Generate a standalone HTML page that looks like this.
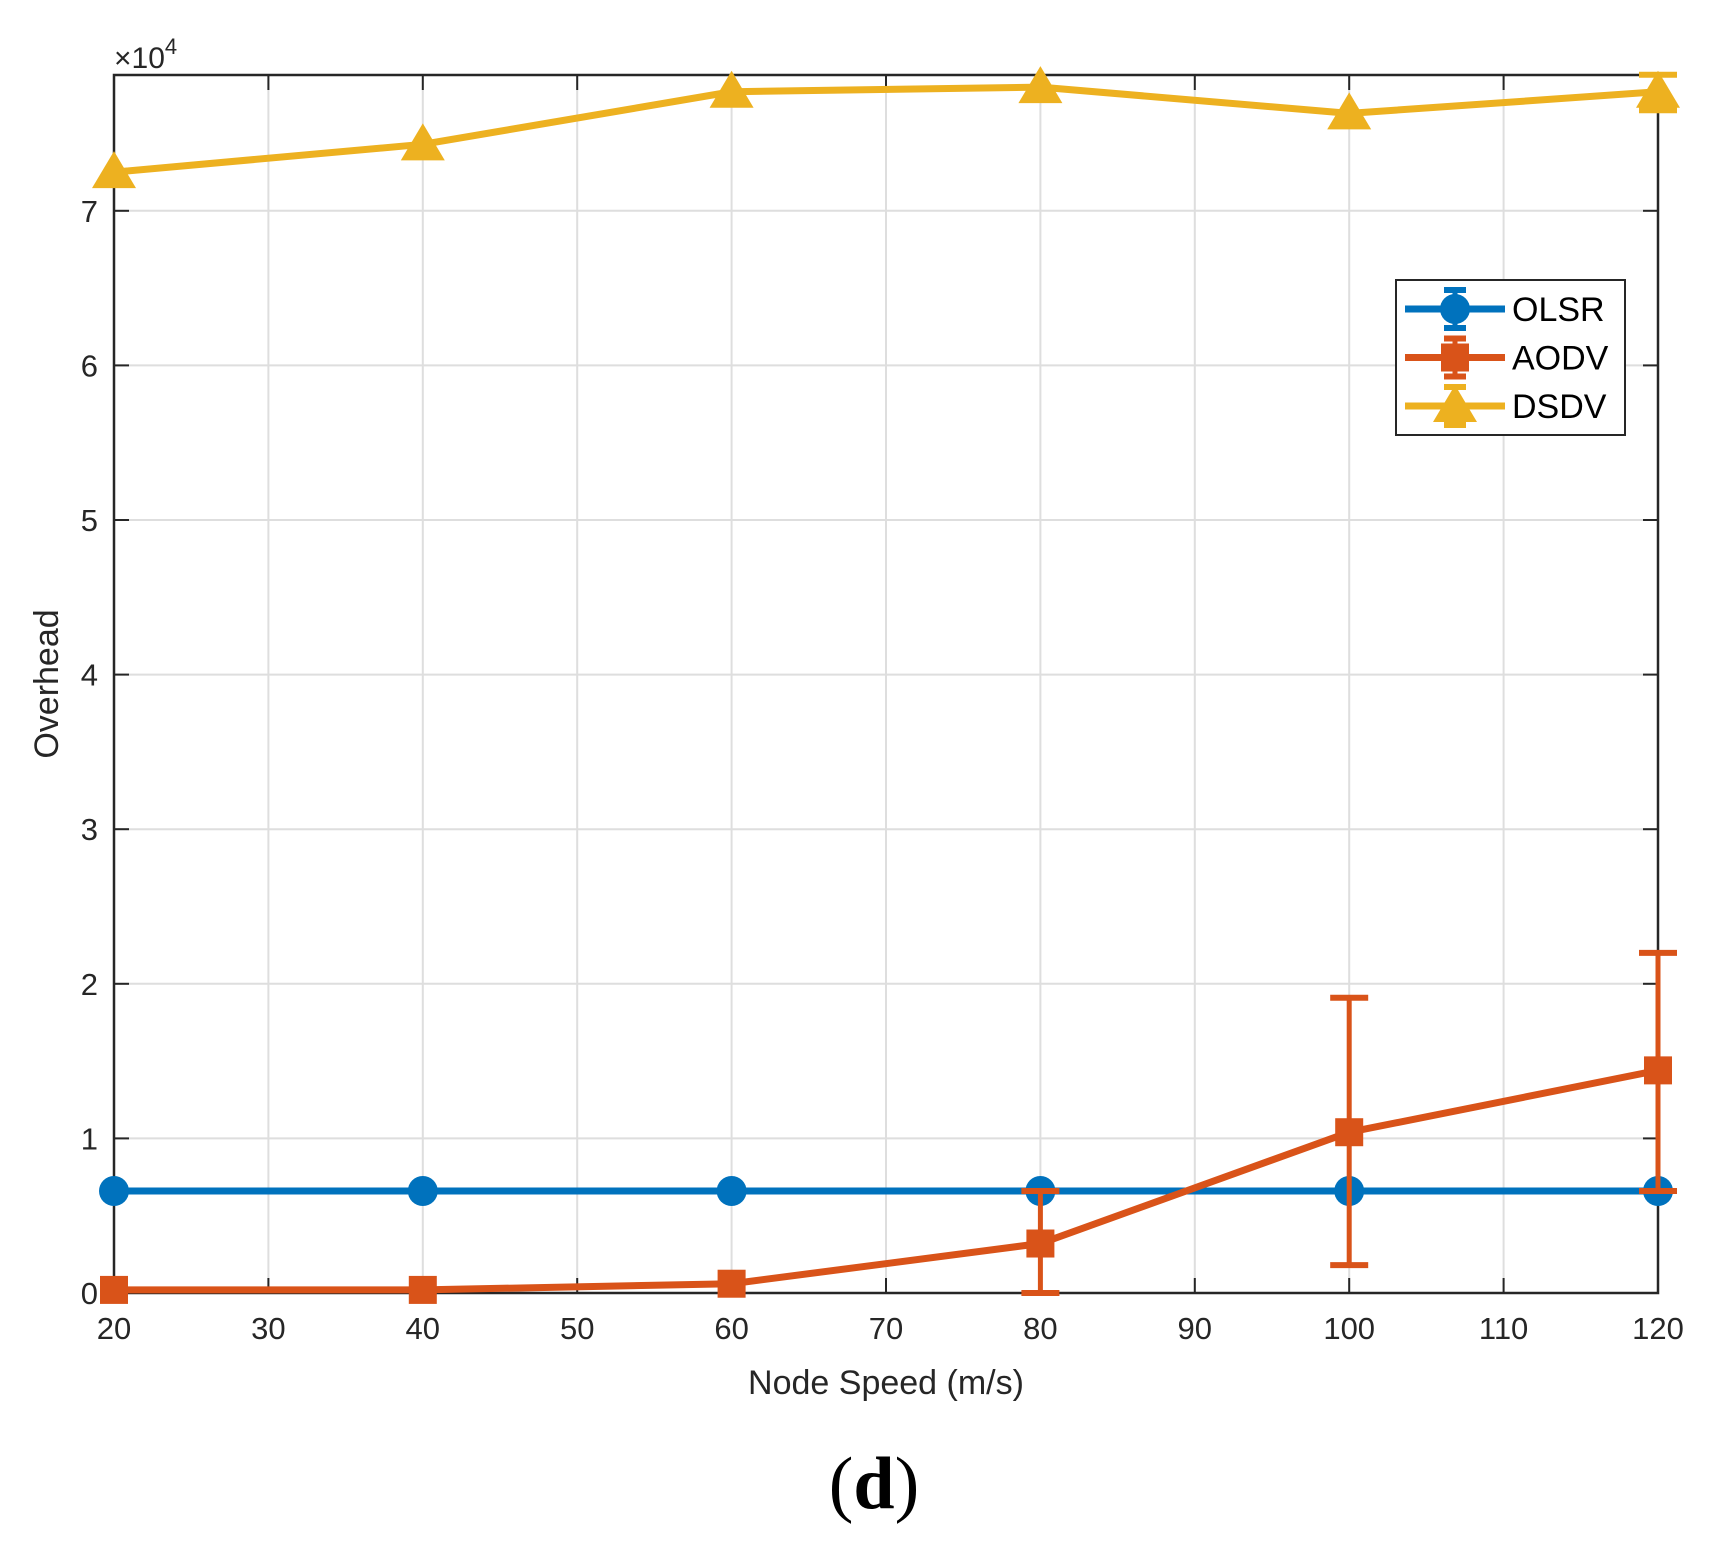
<!DOCTYPE html>
<html><head><meta charset="utf-8"><style>
html,body{margin:0;padding:0;background:#fff;}
svg text{font-family:"Liberation Sans",Arial,sans-serif;}
</style></head><body>
<svg id="chart" width="1711" height="1542" xmlns="http://www.w3.org/2000/svg">
<g id="grid"></g>
<g id="axes"></g>
<g id="series"></g>
<text x="114" y="68" font-size="30" fill="#262626">×10<tspan dy="-14" font-size="22">4</tspan></text>
<text x="886" y="1394" font-size="34" fill="#262626" text-anchor="middle">Node Speed (m/s)</text>
<text x="58" y="684" font-size="34" fill="#262626" text-anchor="middle" transform="rotate(-90 58 684)">Overhead</text>
<text x="874" y="1508" font-size="74" style="font-family:'Liberation Serif',serif" text-anchor="middle">(<tspan font-weight="bold">d</tspan>)</text>
<g id="legend"></g>
</svg>
<script>
const xValues=[20,40,60,80,100,120];
const xTicks=[20,30,40,50,60,70,80,90,100,110,120];
const yTicks=[0,1,2,3,4,5,6,7];
const olsr=[0.66,0.66,0.66,0.66,0.66,0.66];
const olsrErr=[0,0,0,0,0,0];
const aodv=[0.02,0.02,0.06,0.32,1.04,1.44];
const aodvLo=[0.02,0.02,0.06,0.0,0.18,0.66];
const aodvHi=[0.02,0.02,0.06,0.66,1.91,2.20];
const dsdv=[7.25,7.43,7.77,7.80,7.63,7.77];
const dsdvLo=[7.25,7.43,7.77,7.80,7.63,7.65];
const dsdvHi=[7.25,7.43,7.77,7.80,7.63,7.88];
const NS="http://www.w3.org/2000/svg";
const L=114,R=1658,T=75,B=1293;
const xs=v=>L+(v-20)/100*(R-L);
const ys=v=>B-v*154.6;
function mk(tag,attrs,parent){const e=document.createElementNS(NS,tag);for(const k in attrs)e.setAttribute(k,attrs[k]);parent.appendChild(e);return e;}
const grid=document.getElementById('grid'),axes=document.getElementById('axes'),ser=document.getElementById('series'),leg=document.getElementById('legend');
xTicks.forEach(t=>{const x=xs(t);
 const g=mk('line',{x1:x,x2:x,y1:T,y2:B,stroke:'#dedede','stroke-width':2},grid);
 
 
 [[B,B-15],[T,T+15]].forEach(p=>{const tk=mk('line',{x1:x,x2:x,y1:p[0],y2:p[1],stroke:'#262626','stroke-width':2},axes);
 
 });
 const lb=mk('text',{x:x,y:1339,'font-size':31,fill:'#262626','text-anchor':'middle'},axes);lb.textContent=t;
 
 
});
yTicks.forEach(t=>{const y=ys(t);
 const g=mk('line',{x1:L,x2:R,y1:y,y2:y,stroke:'#dedede','stroke-width':2},grid);
 
 
 [[L,L+15],[R,R-15]].forEach(p=>{const tk=mk('line',{x1:p[0],x2:p[1],y1:y,y2:y,stroke:'#262626','stroke-width':2},axes);
 
 });
 const lb=mk('text',{x:98,y:y+11,'font-size':31,fill:'#262626','text-anchor':'end'},axes);lb.textContent=t;
 
 
});
const frame=mk('rect',{x:L,y:T,width:R-L,height:B-T,fill:'none',stroke:'#262626','stroke-width':2.5},axes);


function marker(type,x,y,c,parent,name){let e;
 if(type==='circle')e=mk('circle',{cx:x,cy:y,r:15,fill:c},parent);
 else if(type==='square')e=mk('rect',{x:x-14,y:y-14,width:28,height:28,fill:c},parent);
 else e=mk('polygon',{points:`${x},${y-21} ${x+22},${y+16} ${x-22},${y+16}`,fill:c},parent);
 
 }
function errbar(x,lo,hi,c,parent){if(hi-lo<0.001)return;
 const a=mk('line',{x1:x,x2:x,y1:ys(lo),y2:ys(hi),stroke:c,'stroke-width':5},parent);
 
 
 [lo,hi].forEach(v=>{const cp=mk('line',{x1:x-19,x2:x+19,y1:ys(v),y2:ys(v),stroke:c,'stroke-width':6},parent);
 
 });}
const seriesDefs=[
 {name:'olsr',vals:olsr,lo:olsr.map((v,i)=>v-olsrErr[i]),hi:olsr.map((v,i)=>v+olsrErr[i]),c:'#0072BD',m:'circle'},
 {name:'aodv',vals:aodv,lo:aodvLo,hi:aodvHi,c:'#D95319',m:'square'},
 {name:'dsdv',vals:dsdv,lo:dsdvLo,hi:dsdvHi,c:'#EDB120',m:'triangle'}];
seriesDefs.forEach(s=>{const g=mk('g',{},ser);
 
 
 s.vals.forEach((v,i)=>errbar(xs(xValues[i]),s.lo[i],s.hi[i],s.c,g));
 const pl=mk('polyline',{points:s.vals.map((v,i)=>xs(xValues[i])+','+ys(v)).join(' '),fill:'none',stroke:s.c,'stroke-width':7,'stroke-linejoin':'round'},g);
 
 
 s.vals.forEach((v,i)=>marker(s.m,xs(xValues[i]),ys(v),s.c,g,s.name+'-marker'));
});
const box=mk('rect',{x:1396,y:280,width:229,height:155,fill:'#fff',stroke:'#262626','stroke-width':2},leg);


const labels=['OLSR','AODV','DSDV'];
seriesDefs.forEach((s,i)=>{const y=309+i*48.5;const g=mk('g',{},leg);
 
 
 mk('line',{x1:1405,x2:1505,y1:y,y2:y,stroke:s.c,'stroke-width':7},g);
 mk('line',{x1:1455,x2:1455,y1:y-19,y2:y+19,stroke:s.c,'stroke-width':5},g);
 mk('line',{x1:1444,x2:1466,y1:y-19,y2:y-19,stroke:s.c,'stroke-width':6},g);
 mk('line',{x1:1444,x2:1466,y1:y+19,y2:y+19,stroke:s.c,'stroke-width':6},g);
 marker(s.m,1455,y,s.c,g,'legend-marker');
 const t=mk('text',{x:1512,y:y+12,'font-size':34,fill:'#000'},g);t.textContent=labels[i];
 
 
});
</script>
</body></html>
